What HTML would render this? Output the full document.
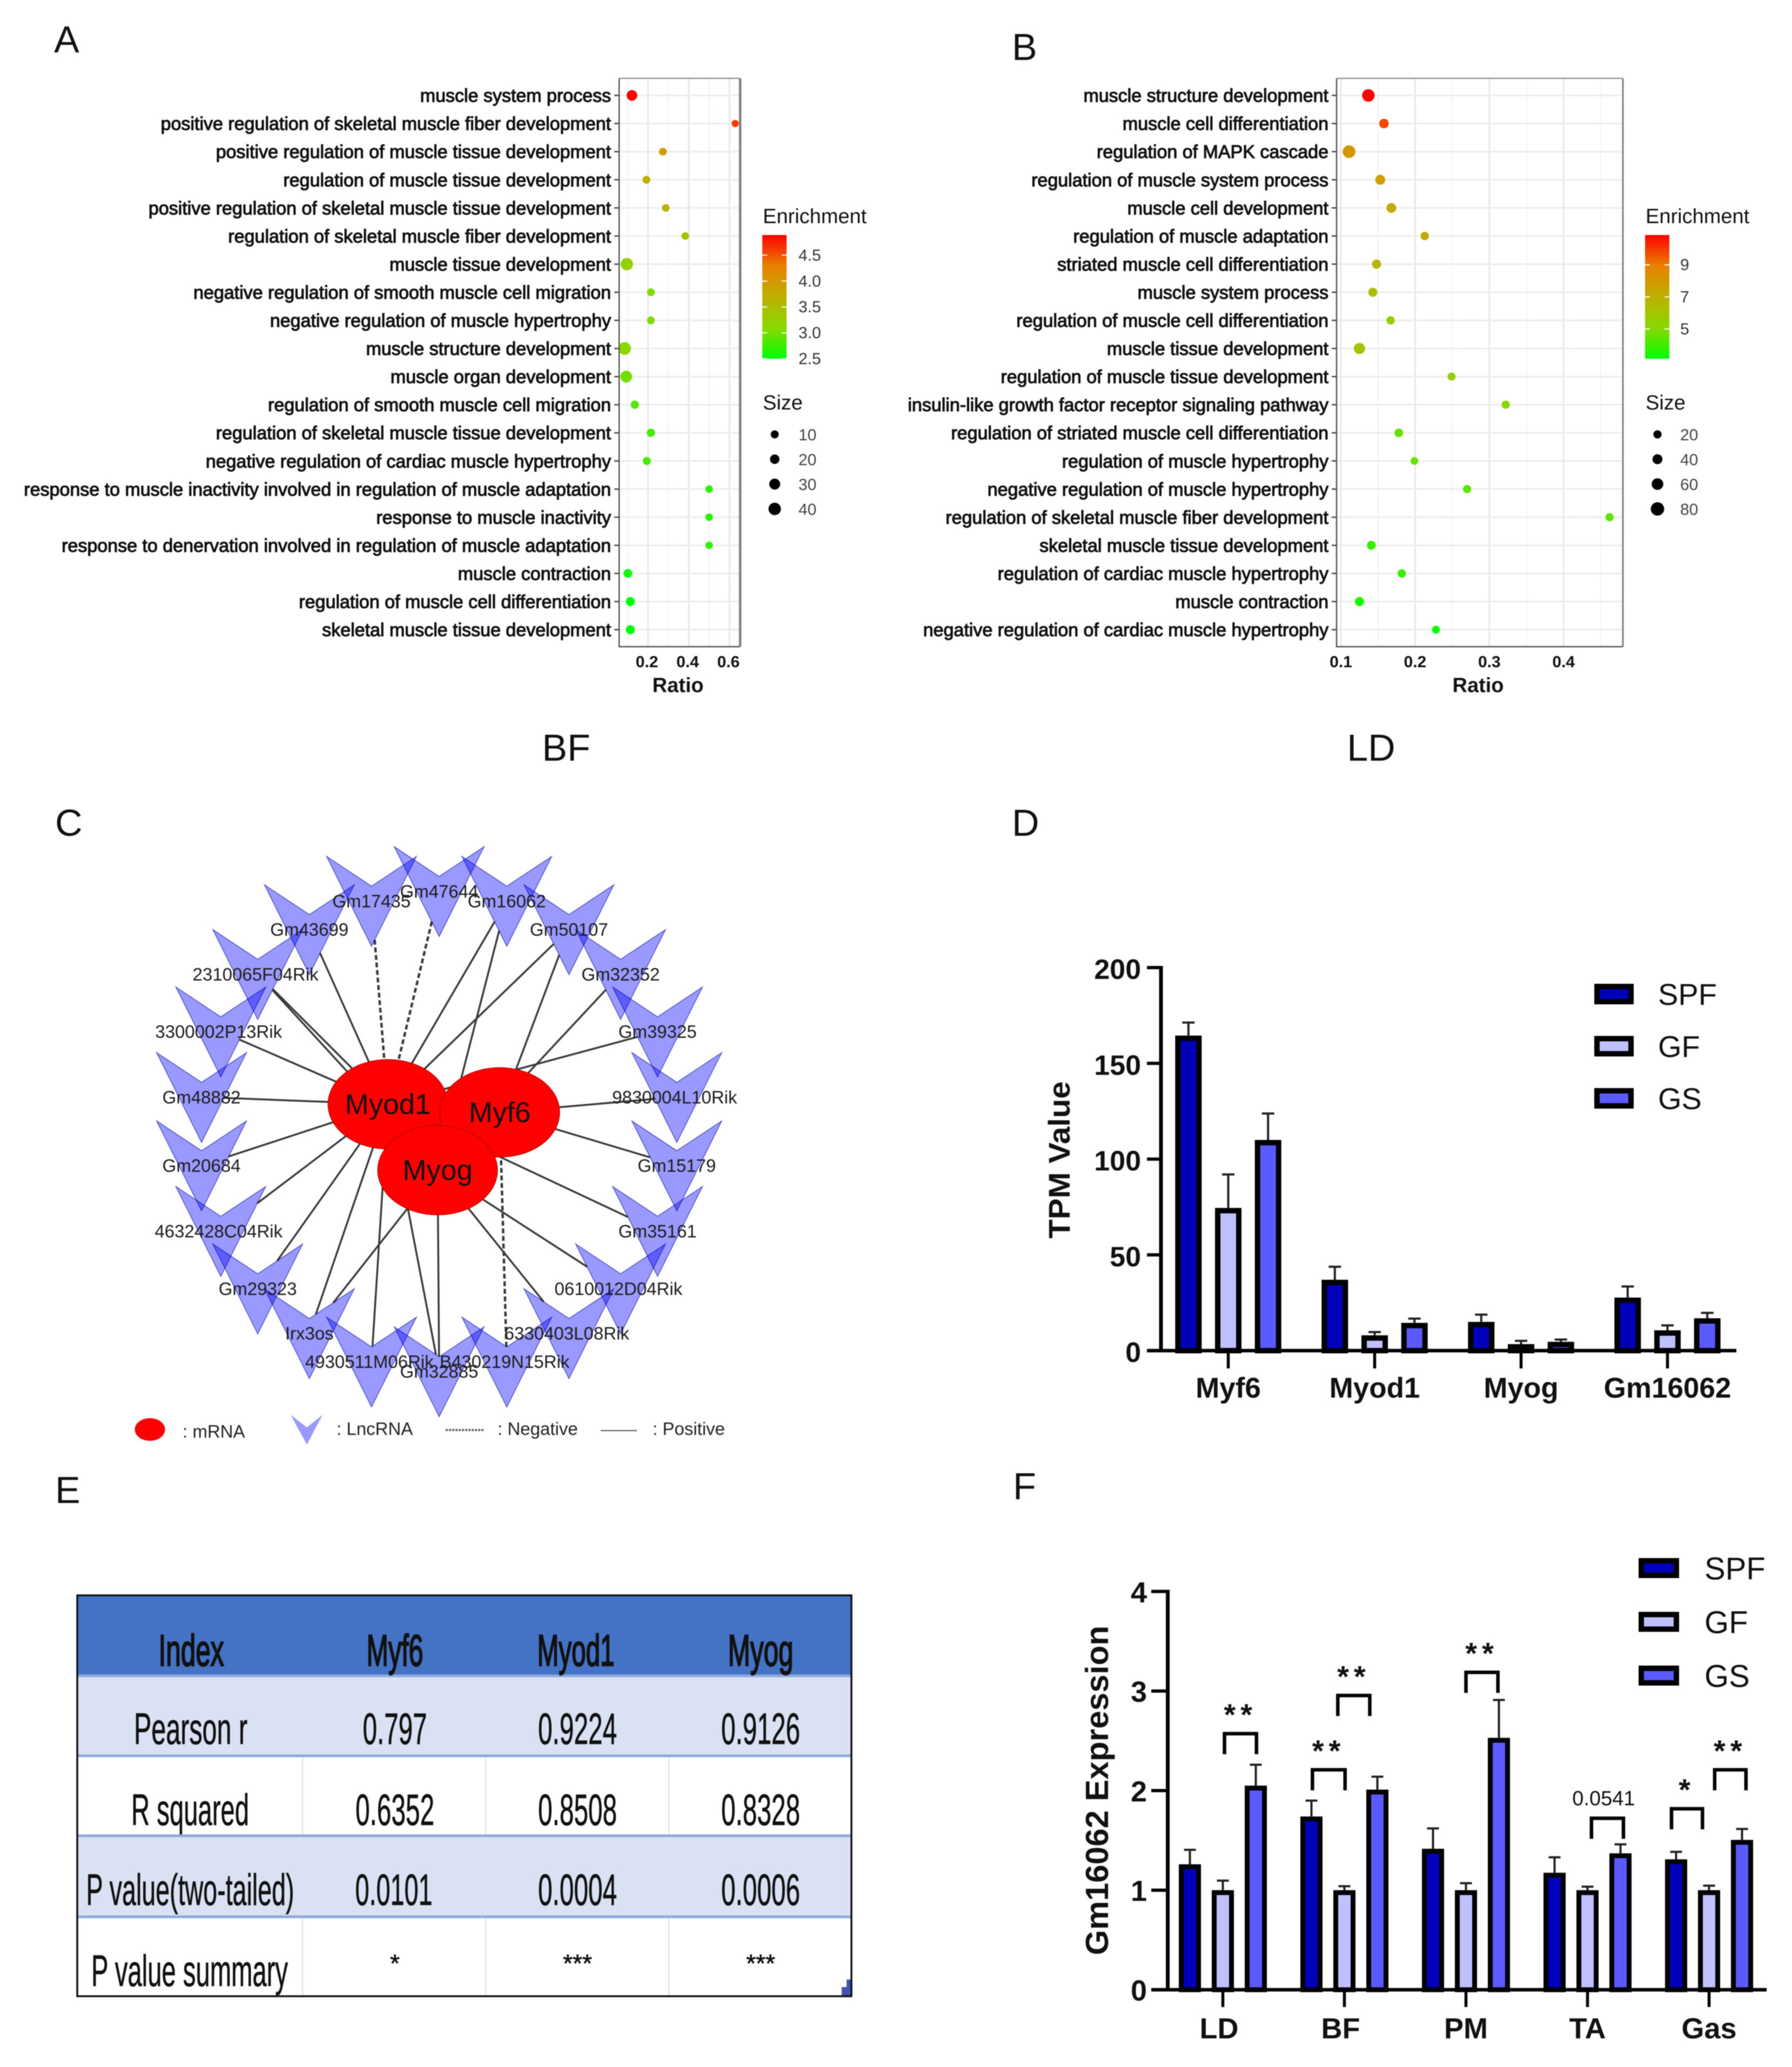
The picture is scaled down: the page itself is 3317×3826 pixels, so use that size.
<!DOCTYPE html>
<html>
<head>
<meta charset="utf-8">
<title>Muscle gene figure</title>
<style>
html,body{margin:0;padding:0;background:#fff;width:3317px;height:3826px;overflow:hidden}
svg{display:block;font-family:"Liberation Sans",sans-serif;filter:blur(.9px)}
</style>
</head>
<body>
<svg id="fig" xmlns="http://www.w3.org/2000/svg" width="3317" height="3826" viewBox="0 0 3317 3826">
<defs>
<linearGradient id="enrichA" x1="0" y1="1" x2="0" y2="0">
<stop offset="0" stop-color="#00ff00"/><stop offset=".25" stop-color="#8ad800"/><stop offset=".5" stop-color="#bdb000"/><stop offset=".75" stop-color="#e88000"/><stop offset="1" stop-color="#ff0000"/>
</linearGradient>
</defs>
<rect width="3317" height="3826" fill="#fff"/>
<g font-size="70" fill="#111">
<text x="100" y="97">A</text>
<text x="1873" y="111">B</text>
<text x="102" y="1547">C</text>
<text x="1873" y="1547">D</text>
<text x="102" y="2782">E</text>
<text x="1875" y="2775">F</text>
<text x="1048" y="1408" text-anchor="middle">BF</text>
<text x="2538" y="1408" text-anchor="middle">LD</text>
</g>
<g id="panelA"></g>
<g id="panelB"></g>
<g id="panelC"></g>
<g id="panelD"></g>
<g id="panelF"></g>
<g id="panelE" font-size="82" fill="#111" stroke="#111" stroke-width=".8" text-anchor="middle">
<rect x="143" y="2953" width="1433" height="149" fill="#4472c4" stroke="none"/>
<rect x="143" y="3102" width="1433" height="148" fill="#d9e1f2" stroke="none"/>
<rect x="143" y="3398" width="1433" height="150" fill="#d9e1f2" stroke="none"/>
<g stroke="#dfdfdf" stroke-width="2">
<line x1="560" x2="560" y1="3250" y2="3398"/>
<line x1="899" x2="899" y1="3250" y2="3398"/>
<line x1="1238" x2="1238" y1="3250" y2="3398"/>
<line x1="560" x2="560" y1="3548" y2="3695"/>
<line x1="899" x2="899" y1="3548" y2="3695"/>
<line x1="1238" x2="1238" y1="3548" y2="3695"/>
</g>
<g stroke="#8eaadb" stroke-width="5">
<line x1="143" x2="1576" y1="3102" y2="3102"/>
<line x1="143" x2="1576" y1="3250" y2="3250"/>
<line x1="143" x2="1576" y1="3398" y2="3398"/>
<line x1="143" x2="1576" y1="3548" y2="3548"/>
</g>
<g stroke="#111" stroke-width="2.6">
<text x="354" y="3083" textLength="121" lengthAdjust="spacingAndGlyphs">Index</text>
<text x="731" y="3083" textLength="105" lengthAdjust="spacingAndGlyphs">Myf6</text>
<text x="1066" y="3083" textLength="143" lengthAdjust="spacingAndGlyphs">Myod1</text>
<text x="1408" y="3083" textLength="121" lengthAdjust="spacingAndGlyphs">Myog</text>
</g>
<text x="353" y="3228" textLength="210" lengthAdjust="spacingAndGlyphs">Pearson r</text>
<text x="731" y="3228" textLength="119" lengthAdjust="spacingAndGlyphs">0.797</text>
<text x="1069" y="3228" textLength="146" lengthAdjust="spacingAndGlyphs">0.9224</text>
<text x="1408" y="3228" textLength="146" lengthAdjust="spacingAndGlyphs">0.9126</text>
<text x="352" y="3378" textLength="218" lengthAdjust="spacingAndGlyphs">R squared</text>
<text x="731" y="3378" textLength="146" lengthAdjust="spacingAndGlyphs">0.6352</text>
<text x="1069" y="3378" textLength="146" lengthAdjust="spacingAndGlyphs">0.8508</text>
<text x="1408" y="3378" textLength="146" lengthAdjust="spacingAndGlyphs">0.8328</text>
<text x="352" y="3526" textLength="385" lengthAdjust="spacingAndGlyphs">P value(two-tailed)</text>
<text x="729" y="3526" textLength="143" lengthAdjust="spacingAndGlyphs">0.0101</text>
<text x="1069" y="3526" textLength="146" lengthAdjust="spacingAndGlyphs">0.0004</text>
<text x="1408" y="3526" textLength="146" lengthAdjust="spacingAndGlyphs">0.0006</text>
<text x="351" y="3676" textLength="364" lengthAdjust="spacingAndGlyphs">P value summary</text>
<g font-size="46">
<text x="731" y="3650">*</text>
<text x="1069" y="3650">***</text>
<text x="1408" y="3650">***</text>
</g>
<path d="M1576 3664V3695H1558V3678H1567V3664Z" fill="#3f55ad" stroke="none"/>
<rect x="143" y="2953" width="1433" height="742" fill="none" stroke="#111" stroke-width="3.5"/>
</g>
</svg>
<script>
// ---------- Panel A data ----------
const aTerms = ["muscle system process","positive regulation of skeletal muscle fiber development","positive regulation of muscle tissue development","regulation of muscle tissue development","positive regulation of skeletal muscle tissue development","regulation of skeletal muscle fiber development","muscle tissue development","negative regulation of smooth muscle cell migration","negative regulation of muscle hypertrophy","muscle structure development","muscle organ development","regulation of smooth muscle cell migration","regulation of skeletal muscle tissue development","negative regulation of cardiac muscle hypertrophy","response to muscle inactivity involved in regulation of muscle adaptation","response to muscle inactivity","response to denervation involved in regulation of muscle adaptation","muscle contraction","regulation of muscle cell differentiation","skeletal muscle tissue development"];
const aRatio = [0.121,0.628,0.273,0.192,0.287,0.383,0.096,0.214,0.214,0.085,0.093,0.135,0.214,0.194,0.5,0.5,0.5,0.101,0.113,0.113];
const aEnrichment = [4.89,4.6,3.95,3.75,3.65,3.4,3.2,3.05,3.05,3.1,3.0,2.85,2.8,2.8,2.7,2.7,2.7,2.55,2.5,2.5];
const aSize = [28,5,9,9,8,7,40,9,9,42,36,12,12,10,7,7,7,15,17,17];
const aRatioTicks = [0.2,0.4,0.6];
const aEnrichTicks = [4.5,4.0,3.5,3.0,2.5];
const aSizeLegend = [10,20,30,40];
// ---------- Panel B data ----------
const bTerms = ["muscle structure development","muscle cell differentiation","regulation of MAPK cascade","regulation of muscle system process","muscle cell development","regulation of muscle adaptation","striated muscle cell differentiation","muscle system process","regulation of muscle cell differentiation","muscle tissue development","regulation of muscle tissue development","insulin-like growth factor receptor signaling pathway","regulation of striated muscle cell differentiation","regulation of muscle hypertrophy","negative regulation of muscle hypertrophy","regulation of skeletal muscle fiber development","skeletal muscle tissue development","regulation of cardiac muscle hypertrophy","muscle contraction","negative regulation of cardiac muscle hypertrophy"];
const bRatio = [0.137,0.158,0.111,0.153,0.168,0.213,0.148,0.143,0.167,0.125,0.249,0.322,0.178,0.199,0.27,0.462,0.141,0.182,0.125,0.228];
const bEnrichment = [10.86,9.8,8.0,7.7,7.3,7.2,6.8,6.3,5.5,6.2,5.5,5.0,4.6,4.6,4.4,4.4,3.9,3.9,3.5,3.2];
const bSize = [70,35,72,40,38,22,32,30,22,55,18,20,25,14,20,20,28,22,32,16];
const bRatioTicks = [0.1,0.2,0.3,0.4];
const bEnrichTicks = [9,7,5];
const bSizeLegend = [20,40,60,80];
// ---------- Panel C data ----------
const cGenes = ["Myod1","Myf6","Myog"];
const cLncRnas = ["Gm47644","Gm16062","Gm50107","Gm32352","Gm39325","9830004L10Rik","Gm15179","Gm35161","0610012D04Rik","6330403L08Rik","B430219N15Rik","Gm32885","4930511M06Rik","Irx3os","Gm29323","4632428C04Rik","Gm20684","Gm48882","3300002P13Rik","2310065F04Rik","Gm43699","Gm17435"];
const cPositive = [["Gm16062","Myod1"],["Gm16062","Myog"],["Gm50107","Myod1"],["Gm50107","Myf6"],["Gm43699","Myod1"],["2310065F04Rik","Myod1"],["2310065F04Rik","Myog"],["3300002P13Rik","Myod1"],["Gm32352","Myog"],["Gm39325","Myod1"],["Gm48882","Myod1"],["9830004L10Rik","Myf6"],["Gm20684","Myod1"],["Gm15179","Myf6"],["4632428C04Rik","Myod1"],["Gm35161","Myod1"],["Gm29323","Myod1"],["0610012D04Rik","Myog"],["6330403L08Rik","Myog"],["Gm32885","Myod1"],["Gm32885","Myog"],["4930511M06Rik","Myod1"],["Irx3os","Myod1"],["Irx3os","Myog"]];
const cNegative = [["Gm17435","Myod1"],["Gm47644","Myod1"],["B430219N15Rik","Myf6"]];
// ---------- Panel D data ----------
const dCategories = ["Myf6","Myod1","Myog","Gm16062"];
const dSpf = [164.5,37,15,27.7];
const dGf = [74.5,8,3.4,10.6];
const dGs = [110,14.5,4.6,16.9];
const dSpfUpper = [171.3,43.8,18.8,33.5];
const dGfUpper = [92,9.7,5.1,13.2];
const dGsUpper = [123.8,16.7,5.8,19.7];
const dTicks = [0,50,100,150,200];
// ---------- Panel F data ----------
const fCategories = ["LD","BF","PM","TA","Gas"];
const fSpf = [1.26,1.74,1.416,1.175,1.31];
const fGf = [1,1,1,1,1];
const fGs = [2.05,2.01,2.53,1.37,1.505];
const fSpfUpper = [1.405,1.90,1.62,1.33,1.385];
const fGfUpper = [1.096,1.04,1.07,1.035,1.045];
const fGsUpper = [2.26,2.14,2.91,1.46,1.615];
const fTicks = [0,1,2,3,4];
const fBracketCat = [0,1,1,2,3,4,4];
const fBracketFrom = [0.05,-0.97,-0.2,0,0.12,-1.14,0.17];
const fBracketTo = [1.02,0.02,0.77,0.97,1.09,-0.2,1.12];
const fBracketTop = [2.572,2.209,2.955,3.188,1.722,1.818,2.209];
const fBracketLabel = ["**","**","**","**","0.0541","*","**"];
const seriesNames = ["SPF","GF","GS"];
const seriesColors = ["#0000bb","#c0c0ff","#5a5aff"];

const NS = "http://www.w3.org/2000/svg";
function mk(parent, tag, attrs, txt){
  const e = document.createElementNS(NS, tag);
  for (const k in attrs) e.setAttribute(k, attrs[k]);
  if (txt !== undefined) e.textContent = txt;
  parent.appendChild(e);
  return e;
}
const rampStops = [[0,0,255,0],[.25,138,216,0],[.5,189,176,0],[.75,232,128,0],[1,255,0,0]];
function ramp(t){
  t = Math.max(0, Math.min(1, t));
  for (let i = 1; i < rampStops.length; i++){
    if (t <= rampStops[i][0]){
      const a = rampStops[i-1], b = rampStops[i], f = (t-a[0])/(b[0]-a[0]);
      return "rgb(" + [1,2,3].map(k => Math.round(a[k]+(b[k]-a[k])*f)).join(",") + ")";
    }
  }
  return "rgb(255,0,0)";
}

function dotPlot(root, c){
  const x = v => c.x0 + (v - c.v0) * c.xk;
  const y = i => 176.6 + i * 52.05;
  const d = s => c.d0 + c.dk * s;
  const col = e => ramp((e - c.eMin) / (c.eMax - c.eMin));
  const yE = e => c.barB - (e - c.eMin) / (c.eMax - c.eMin) * (c.barB - c.barT);
  c.minorTicks.forEach(v => {
    const l = mk(root, "line", {x1:x(v), x2:x(v), y1:c.top, y2:c.bottom, stroke:"#efefef", "stroke-width":1.5});
    
    
  });
  c.ticks.forEach(v => {
    const l = mk(root, "line", {x1:x(v), x2:x(v), y1:c.top, y2:c.bottom, stroke:"#e8e8e8", "stroke-width":3});
    
    
  });
  c.terms.forEach((t, i) => {
    const g = mk(root, "line", {x1:c.left, x2:c.right, y1:y(i), y2:y(i), stroke:"#ececec", "stroke-width":3});
    
    
    const tk = mk(root, "line", {x1:c.left-9, x2:c.left, y1:y(i), y2:y(i), stroke:"#444", "stroke-width":2.5});
    
    
    const lb = mk(root, "text", {x:c.left-15, y:y(i)+12, "text-anchor":"end", "font-size":c.labelSize, fill:"#111", stroke:"#111", "stroke-width":1.2}, t);
    
    
  });
  c.ratio.forEach((v, i) => {
    const p = mk(root, "circle", {cx:x(v), cy:y(i), r:d(c.size[i])/2, fill:col(c.enrich[i])});
    
    
  });
  const lf = mk(root, "path", {d:"M"+c.left+" "+c.top+"V"+c.bottom+"H"+c.right, fill:"none", stroke:"#555", "stroke-width":2.5});
  
  
  const tf = mk(root, "line", {x1:c.left, x2:c.right, y1:c.top, y2:c.top, stroke:"#999", "stroke-width":2.5});
  
  
  const rf = mk(root, "line", {x1:c.right, x2:c.right, y1:c.top, y2:c.bottom, stroke:"#808080", "stroke-width":c.rightW});
  
  
  c.ticks.forEach(v => {
    const tl = mk(root, "text", {x:x(v)+c.tickShift, y:1235, "text-anchor":"middle", "font-size":30, "font-weight":"bold", fill:"#111"}, v.toFixed(1));
    
    
  });
  const xt = mk(root, "text", {x:c.titleX, y:1281, "text-anchor":"middle", "font-size":38, "font-weight":"bold", fill:"#111"}, "Ratio");
  
  
  const et = mk(root, "text", {x:c.legX, y:413, "font-size":38, fill:"#111"}, "Enrichment");
  
  
  const bar = mk(root, "rect", {x:c.legX-1, y:c.barT, width:45, height:c.barB-c.barT, fill:"url(#enrichA)"});
  
  
  c.enrichTicks.forEach(e => {
    const w1 = mk(root, "line", {x1:c.legX-1, x2:c.legX+8, y1:yE(e), y2:yE(e), stroke:"#fff", "stroke-width":2});
    
    
    const w2 = mk(root, "line", {x1:c.legX+35, x2:c.legX+44, y1:yE(e), y2:yE(e), stroke:"#fff", "stroke-width":2});
    
    
    const l = mk(root, "text", {x:c.legTextX, y:yE(e)+10, "font-size":30, fill:"#333"}, c.enrichFmt(e));
    
    
  });
  const st = mk(root, "text", {x:c.legX, y:758, "font-size":38, fill:"#111"}, "Size");
  
  
  c.sizeLegend.forEach((s, i) => {
    const yy = 804 + i * 46;
    const cc = mk(root, "circle", {cx:c.legX+22, cy:yy, r:d(s)/2, fill:"#000"});
    
    
    const tt = mk(root, "text", {x:c.legTextX, y:yy+11, "font-size":30, fill:"#444"}, String(s));
    
    
  });
}
dotPlot(document.getElementById("panelA"), {
  terms:aTerms, ratio:aRatio, enrich:aEnrichment, size:aSize, ticks:aRatioTicks, minorTicks:[0.1,0.3,0.5],
  enrichTicks:aEnrichTicks, sizeLegend:aSizeLegend, enrichFmt:e=>e.toFixed(1),
  x0:1199.5, v0:0.2, xk:377, left:1146, right:1370, top:145, bottom:1197, rightW:4.5,
  d0:12, dk:.275, eMin:2.5, eMax:4.89, barT:435, barB:664, legX:1412, legTextX:1478,
  labelSize:34, tickShift:-2, titleX:1255
});
dotPlot(document.getElementById("panelB"), {
  terms:bTerms, ratio:bRatio, enrich:bEnrichment, size:bSize, ticks:bRatioTicks, minorTicks:[0.15,0.25,0.35,0.45],
  enrichTicks:bEnrichTicks, sizeLegend:bSizeLegend, enrichFmt:e=>String(e),
  x0:2482, v0:0.1, xk:1374, left:2474, right:3004, top:145, bottom:1197, rightW:3,
  d0:12, dk:.16, eMin:3.14, eMax:10.86, barT:435, barB:664, legX:3046, legTextX:3110,
  labelSize:34, tickShift:0, titleX:2736
});

// ---------- Network ----------
(function(){
  const root = document.getElementById("panelC");
  const cx = 812.9, cy = 2066.8, rad = 444.4;
  const nodePos = n => { const a = cLncRnas.indexOf(n) * 2 * Math.PI / cLncRnas.length; return {x:cx + rad*Math.sin(a), y:cy - rad*Math.cos(a)}; };
  const chevron = p => [[p.x-83,p.y-55],[p.x,p.y],[p.x+83,p.y-55],[p.x,p.y+111]];
  const genePos = {Myod1:{x:718,y:2044}, Myf6:{x:925,y:2059}, Myog:{x:810,y:2166}};
  function exitDistance(lx, ly, ux, uy, poly){
    let best = 0;
    poly.forEach((a, i) => {
      const b = poly[(i + 1) % poly.length];
      const ex = b[0]-a[0], ey = b[1]-a[1];
      const den = ux*ey - uy*ex;
      if (Math.abs(den) < 1e-9) return;
      const t = ((a[0]-lx)*ey - (a[1]-ly)*ex) / den;
      const s = ((a[0]-lx)*uy - (a[1]-ly)*ux) / den;
      if (t > 0 && s >= 0 && s <= 1 && t > best) best = t;
    });
    return best;
  }
  function edge(pair, dashed){
    const p = nodePos(pair[0]), t = genePos[pair[1]];
    const lx = p.x, ly = p.y + 27;
    const dx = t.x - lx, dy = t.y - ly, L = Math.hypot(dx, dy);
    const off = exitDistance(lx, ly, dx/L, dy/L, chevron(p));
    const attrs = {x1:lx+dx/L*off, y1:ly+dy/L*off, x2:t.x, y2:t.y, stroke:"#3a3a3a", "stroke-width":dashed?4.5:3.5};
    if (dashed) attrs["stroke-dasharray"] = "9 5";
    const l = mk(root, "line", attrs);
    
    
  }
  cPositive.forEach(e => edge(e, false));
  cNegative.forEach(e => edge(e, true));
  cLncRnas.forEach(n => {
    const p = nodePos(n);
    const v = mk(root, "polygon", {points:chevron(p).map(a=>a.join(",")).join(" "), fill:"#9999ff", stroke:"#5050c8", "stroke-width":1.5, style:"mix-blend-mode:multiply"});
    
    
  });
  cGenes.forEach(g => {
    const p = genePos[g];
    const e = mk(root, "ellipse", {cx:p.x, cy:p.y, rx:111, ry:83, fill:"#ff0000", stroke:"#a00000", "stroke-width":1});
    
    
  });
  cGenes.forEach(g => {
    const p = genePos[g];
    const t = mk(root, "text", {x:p.x, y:p.y+18, "text-anchor":"middle", "font-size":53, fill:"#111"}, g);
    
    
  });
  cLncRnas.forEach(n => {
    const p = nodePos(n);
    const t = mk(root, "text", {x:p.x-(n.endsWith("Rik")?4:0), y:p.y+39, "text-anchor":"middle", "font-size":33, fill:"#1c1c1c"}, n);
    
    
  });
  const k1 = mk(root, "ellipse", {cx:277.5, cy:2646, rx:28, ry:21, fill:"#ff0000"});
  
  
  const k2 = mk(root, "text", {x:338, y:2661, "font-size":33, fill:"#222"}, ": mRNA");
  
  
  const k3 = mk(root, "polygon", {points:"538,2619 568,2642 597,2619 568,2674", fill:"#9999ff"});
  
  
  const k4 = mk(root, "text", {x:623, y:2656, "font-size":33, fill:"#222"}, ": LncRNA");
  
  
  const k5 = mk(root, "line", {x1:825, x2:896, y1:2647, y2:2647, stroke:"#666", "stroke-width":4, "stroke-dasharray":"4 2"});
  
  
  const k6 = mk(root, "text", {x:921, y:2656, "font-size":33, fill:"#222"}, ": Negative");
  
  
  const k7 = mk(root, "line", {x1:1112, x2:1179, y1:2648, y2:2648, stroke:"#555", "stroke-width":2});
  
  
  const k8 = mk(root, "text", {x:1208, y:2656, "font-size":33, fill:"#222"}, ": Positive");
  
  
})();

// ---------- Bar charts ----------
function barChart(root, c){
  const y = v => c.y0 - v * c.yk;
  const gx = i => c.g0 + i * c.gStep;
  const bx = (i, s) => gx(i) + (s - 1) * c.bStep;
  const series = [c.spf, c.gf, c.gs];
  const upper = [c.spfU, c.gfU, c.gsU];
  series.forEach((vals, s) => {
    vals.forEach((v, i) => {
      const cxx = bx(i, s);
      const er = mk(root, "line", {x1:cxx, x2:cxx, y1:y(upper[s][i]), y2:y(v), stroke:"#222", "stroke-width":4});
      
      
      const cp = mk(root, "line", {x1:cxx-c.cap/2, x2:cxx+c.cap/2, y1:y(upper[s][i]), y2:y(upper[s][i]), stroke:"#222", "stroke-width":4});
      
      
      const w = c.barW - c.sw;
      const r = mk(root, "rect", {x:cxx-w/2, y:y(v)+c.sw/2, width:w, height:Math.max(0, y(0)-y(v)-c.sw/2), fill:seriesColors[s], stroke:"#000", "stroke-width":c.sw});
      
      
    });
  });
  const ax = mk(root, "line", {x1:c.xStart, x2:c.xEnd, y1:y(0), y2:y(0), stroke:"#000", "stroke-width":6.5});
  
  
  const ay = mk(root, "line", {x1:c.axisX, x2:c.axisX, y1:y(c.ticks[c.ticks.length-1])-3, y2:y(0)+3, stroke:"#000", "stroke-width":7});
  
  
  c.ticks.forEach(t => {
    const tk = mk(root, "line", {x1:c.xStart, x2:c.axisX, y1:y(t), y2:y(t), stroke:"#000", "stroke-width":6});
    
    
    const tl = mk(root, "text", {x:c.tickRight, y:y(t)+c.tickDy, "text-anchor":"end", "font-size":c.tickSize, "font-weight":"bold", fill:"#111"}, String(t));
    
    
  });
  c.cats.forEach((n, i) => {
    const tk = mk(root, "line", {x1:gx(i), x2:gx(i), y1:y(0), y2:y(0)+c.tickLen, stroke:"#000", "stroke-width":5.5});
    
    
    const tl = mk(root, "text", {x:gx(i)+(c.catShift?c.catShift[i]:0), y:c.catY, "text-anchor":"middle", "font-size":c.catSize, "font-weight":"bold", fill:"#111"}, n);
    
    
  });
  const yt = mk(root, "text", {transform:"translate("+c.titleX+" "+c.titleY+") rotate(-90)", "text-anchor":"middle", "font-size":c.titleSize, "font-weight":"bold", fill:"#111", textLength:c.titleLen, lengthAdjust:"spacingAndGlyphs"}, c.title);
  
  
  seriesNames.forEach((n, s) => {
    const yy = c.legY + s * c.legStep;
    const sw = mk(root, "rect", {x:c.legX+5, y:yy+5, width:c.legW-10, height:c.legH-10, fill:seriesColors[s], stroke:"#000", "stroke-width":10});
    
    
    const tx = mk(root, "text", {x:c.legTextX, y:yy+c.legH/2+c.legSize*.36, "font-size":c.legSize, fill:"#111"}, n);
    
    
  });
  return {y, gx};
}
barChart(document.getElementById("panelD"), {
  cats:dCategories, spf:dSpf, gf:dGf, gs:dGs, spfU:dSpfUpper, gfU:dGfUpper, gsU:dGsUpper, ticks:dTicks,
  y0:2500, yk:3.545, g0:2273.5, gStep:271, bStep:73.7, barW:49, sw:10, cap:23,
  xStart:2123, xEnd:3214, axisX:2149, tickRight:2112, tickDy:21, tickSize:52, tickLen:33,
  catY:2587, catSize:53, title:"TPM Value", titleX:1980, titleY:2147, titleSize:56, titleLen:291,
  legX:2951, legY:1821, legStep:96.5, legW:73, legH:38, legTextX:3069, legSize:56
});
const fAxes = barChart(document.getElementById("panelF"), {
  cats:fCategories, spf:fSpf, gf:fGf, gs:fGs, spfU:fSpfUpper, gfU:fGfUpper, gsU:fGsUpper, ticks:fTicks,
  y0:3683, yk:184.3, g0:2263.5, gStep:225, bStep:61, barW:41, sw:9, cap:22,
  xStart:2131, xEnd:3270, axisX:2161.5, tickRight:2123, tickDy:20, tickSize:54, tickLen:32,
  catY:3773, catSize:54, catShift:[-7,-7,0,0,0], title:"Gm16062 Expression", titleX:2051, titleY:3314, titleSize:59, titleLen:610,
  legX:3033, legY:2884, legStep:99.5, legW:75, legH:37, legTextX:3155, legSize:58
});
(function(){
  const root = document.getElementById("panelF");
  fBracketCat.forEach((cat, i) => {
    const g = fAxes.gx(cat);
    const x1 = g + fBracketFrom[i] * 61, x2 = g + fBracketTo[i] * 61, top = fAxes.y(fBracketTop[i]);
    const b = mk(root, "path", {d:"M"+x1+" "+(top+38)+"V"+top+"H"+x2+"V"+(top+38), fill:"none", stroke:"#000", "stroke-width":6.5});
    
    
    const lab = fBracketLabel[i];
    const mid = (x1 + x2) / 2;
    const t = lab.indexOf("*") >= 0
      ? mk(root, "text", {x:mid, y:top-16, "text-anchor":"middle", "font-size":56, "font-weight":"bold", "letter-spacing":9, fill:"#111"}, lab)
      : mk(root, "text", {x:mid-7, y:top-24, "text-anchor":"middle", "font-size":38, fill:"#111"}, lab);
    
    
  });
})();
</script>
</body>
</html>
